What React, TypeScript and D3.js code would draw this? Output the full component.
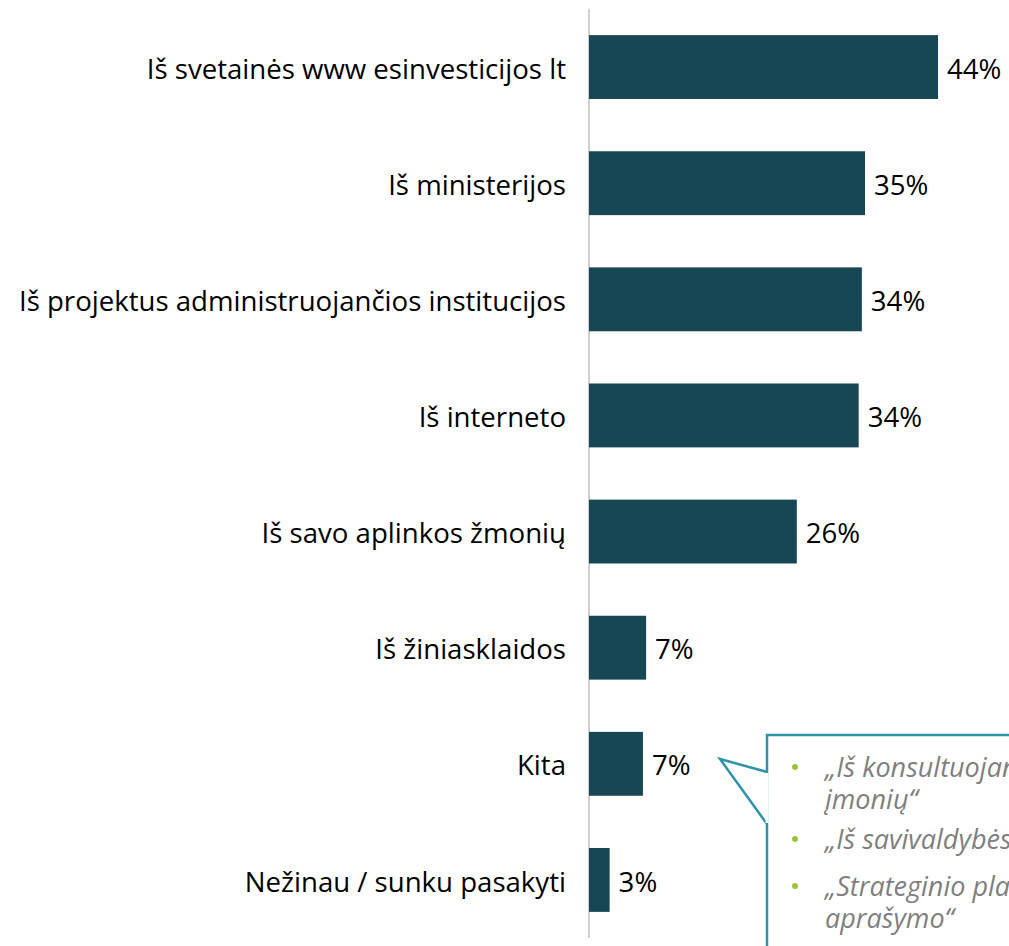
import { useEffect } from "react"
import * as d3 from "d3"

// Atsakymų kategorijos ir reikšmės (%)
const categories = [
  "Iš svetainės www esinvesticijos lt",
  "Iš ministerijos",
  "Iš projektus administruojančios institucijos",
  "Iš interneto",
  "Iš savo aplinkos žmonių",
  "Iš žiniasklaidos",
  "Kita",
  "Nežinau / sunku pasakyti",
]
const values = [44.0, 34.8, 34.4, 34.0, 26.2, 7.2, 6.8, 2.6]
const valueLabels = ["44%", "35%", "34%", "34%", "26%", "7%", "7%", "3%"]

// „Kita“ atsakymų citatos (eilutėmis)
const quotes = [
  ["„Iš konsultuojančių", "įmonių“"],
  ["„Iš savivaldybės“"],
  ["„Strateginio plano", "aprašymo“"],
]

const width = 1009
const height = 946
const axisX = 589
const font = "'Open Sans', 'Noto Sans', sans-serif"

export default function App() {
  useEffect(() => {
    document.body.style.margin = "0"
    document.body.style.overflow = "hidden"
  }, [])

  const x = d3.scaleLinear().domain([0, 44]).range([axisX, 938])
  const y = d3.scaleBand().domain(categories).range([9, 938]).paddingInner(0.45).paddingOuter(0.225)

  // Callout
  const boxLeft = 767
  const boxTop = 735
  const pointer = `M${boxLeft},772 L720,759 L${boxLeft},824`
  const lineBaselines = [[777, 809], [849], [896, 928]]

  return (
    <svg width={width} height={height} style={{ display: "block", background: "#fff" }}>
      <line x1={axisX} x2={axisX} y1={9} y2={938} stroke="#BFBFBF" strokeWidth={1.5} />
      {categories.map((c, i) => (
        <g key={c}>
          <rect
            x={x(0)}
            y={y(c)!}
            width={x(values[i]) - x(0)}
            height={y.bandwidth()}
            fill="#174754"
          />
          <text
            x={566}
            y={y(c)! + y.bandwidth() / 2}
            dy="0.42em"
            textAnchor="end"
            fontFamily={font}
            fontSize={27.6}
            fill="#000"
          >
            {c}
          </text>
          <text
            x={x(values[i]) + 9}
            y={y(c)! + y.bandwidth() / 2}
            dy="0.42em"
            fontFamily={font}
            fontSize={27.6}
            fill="#000"
          >
            {valueLabels[i]}
          </text>
        </g>
      ))}

      <rect
        x={boxLeft}
        y={boxTop}
        width={width}
        height={height}
        fill="#fff"
        stroke="#2E93AB"
        strokeWidth={2.5}
      />
      <path d={pointer} fill="#fff" stroke="#2E93AB" strokeWidth={2.5} />
      <line x1={boxLeft} x2={boxLeft} y1={773} y2={823} stroke="#fff" strokeWidth={3} />

      {quotes.map((q, qi) => (
        <g key={qi}>
          <circle cx={795} cy={lineBaselines[qi][0] - 10} r={3} fill="#9BC43B" />
          {q.map((line, li) => (
            <text
              key={li}
              x={825}
              y={lineBaselines[qi][li]}
              fontFamily={font}
              fontStyle="italic"
              fontSize={27}
              fill="#7F7F7F"
            >
              {line}
            </text>
          ))}
        </g>
      ))}
    </svg>
  )
}
